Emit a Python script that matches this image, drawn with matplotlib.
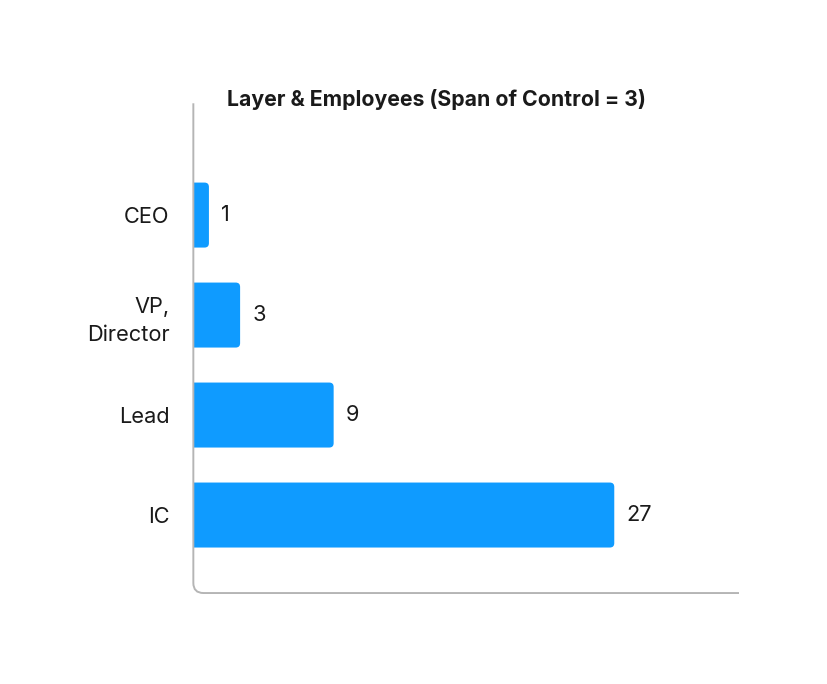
import matplotlib.pyplot as plt
from matplotlib.patches import FancyBboxPatch
from matplotlib.path import Path
from matplotlib.patches import PathPatch

plt.rcParams['font.family'] = ['Inter', 'DejaVu Sans']

# data
layers = ["IC", "Lead", "VP,\nDirector", "CEO"]
employees = [27, 9, 3, 1]

bar_color = "#0f9bff"
axis_color = "#b5b5b5"
text_color = "#1a1a1a"

fig = plt.figure(figsize=(8.28, 6.84), dpi=100)
ax = fig.add_axes([0.2335, 0.133, 0.659, 0.716])

ypos = list(range(len(layers)))
bars = ax.barh(ypos, employees, height=0.65, color=bar_color)

# swap the plain rectangles for ones with rounded right ends
for b in bars:
    x0, y0, w, h = b.get_x(), b.get_y(), b.get_width(), b.get_height()
    b.set_visible(False)
    patch = FancyBboxPatch((x0 - 1, y0), w + 1, h,
                           boxstyle="round,pad=0,rounding_size=0.28",
                           mutation_aspect=0.157,
                           facecolor=bar_color, edgecolor="none")
    ax.add_patch(patch)

for y, v in zip(ypos, employees):
    ax.annotate(str(v), (v, y), xytext=(12, 0), textcoords="offset pixels",
                va="center", ha="left", fontsize=15.7, color=text_color)

ax.set_xlim(0, 35)
ax.set_ylim(-0.78, 4.118)
ax.set_yticks(ypos, layers)
ax.set_xticks([])
ax.tick_params(axis='y', length=0, pad=17, labelsize=15.7, labelcolor=text_color)
for lbl in ax.get_yticklabels():
    lbl.set_linespacing(1.5)

for s in ax.spines.values():
    s.set_visible(False)

# left + bottom axis line with a rounded corner
rx, ry = 0.0185, 0.0206
verts = [(0, 1), (0, ry), (0, 0), (rx, 0), (1, 0)]
codes = [Path.MOVETO, Path.LINETO, Path.CURVE3, Path.CURVE3, Path.LINETO]
ax.add_patch(PathPatch(Path(verts, codes), transform=ax.transAxes,
                       facecolor="none", edgecolor=axis_color, lw=1.4,
                       clip_on=False))

fig.text(436 / 828, 1 - 100 / 684, "Layer & Employees (Span of Control = 3)",
         ha="center", va="center", fontsize=15.3, fontweight="bold",
         color=text_color)

plt.savefig("out.png", dpi=100)
